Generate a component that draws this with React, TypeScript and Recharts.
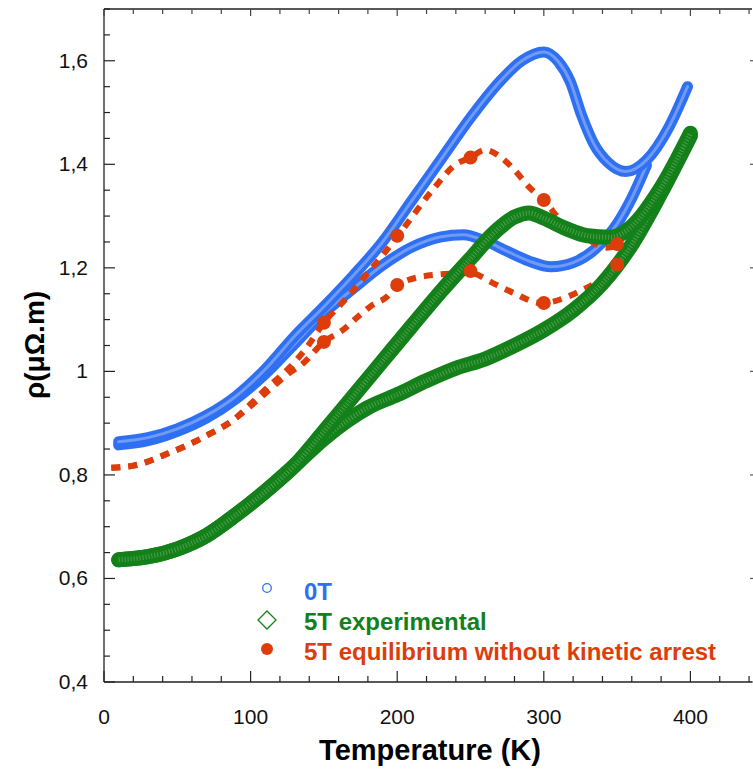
import { ComposedChart, Line, XAxis, YAxis } from "recharts";

// 0T, two branches of the loop
const blueWarmT = [10, 30, 50, 70, 90, 110, 130, 150, 170, 190, 210, 230, 250, 270, 285, 300, 310, 318, 326, 334, 344, 356, 370, 385, 398];
const blueWarmRho = [0.864, 0.872, 0.889, 0.915, 0.952, 1.004, 1.068, 1.125, 1.185, 1.25, 1.33, 1.41, 1.49, 1.56, 1.6, 1.617, 1.598, 1.56, 1.493, 1.44, 1.403, 1.386, 1.408, 1.47, 1.55];
const blueCoolT = [10, 30, 50, 70, 90, 110, 130, 150, 170, 190, 210, 230, 245, 260, 275, 290, 305, 320, 335, 350, 360, 370];
const blueCoolRho = [0.858, 0.866, 0.884, 0.91, 0.947, 0.995, 1.053, 1.112, 1.16, 1.205, 1.24, 1.26, 1.264, 1.252, 1.232, 1.213, 1.202, 1.21, 1.236, 1.285, 1.335, 1.398];

// 5T experimental
const greenUpT = [10, 30, 50, 70, 90, 110, 130, 150, 170, 190, 210, 230, 250, 265, 280, 290, 300, 315, 330, 345, 360, 380, 400];
const greenUpRho = [0.636, 0.642, 0.657, 0.683, 0.723, 0.768, 0.818, 0.884, 0.952, 1.02, 1.088, 1.155, 1.218, 1.265, 1.298, 1.306, 1.296, 1.276, 1.262, 1.259, 1.28, 1.355, 1.46];
const greenLowT = [10, 30, 50, 70, 90, 110, 130, 150, 165, 180, 200, 220, 240, 260, 280, 300, 320, 340, 360, 380, 400];
const greenLowRho = [0.636, 0.642, 0.657, 0.683, 0.723, 0.768, 0.818, 0.87, 0.903, 0.93, 0.955, 0.982, 1.006, 1.024, 1.05, 1.08, 1.118, 1.17, 1.245, 1.345, 1.455];

// 5T equilibrium without kinetic arrest (dashed fits + computed points)
const redUpT = [5, 20, 45, 70, 90, 100, 110, 125, 138, 150, 163, 180, 200, 224, 240, 250, 260, 270, 280, 290, 300, 313, 330, 343, 352];
const redUpRho = [0.814, 0.818, 0.843, 0.876, 0.91, 0.937, 0.965, 1.003, 1.045, 1.094, 1.134, 1.19, 1.26, 1.35, 1.4, 1.413, 1.428, 1.415, 1.389, 1.356, 1.33, 1.287, 1.255, 1.239, 1.244];
const redLowT = [5, 20, 45, 70, 90, 100, 115, 125, 136, 150, 163, 173, 183, 193, 200, 224, 250, 265, 279, 298, 324, 340, 352];
const redLowRho = [0.814, 0.818, 0.843, 0.876, 0.91, 0.933, 0.97, 0.994, 1.016, 1.057, 1.08, 1.105, 1.128, 1.144, 1.167, 1.186, 1.19, 1.171, 1.152, 1.132, 1.154, 1.18, 1.21];
const redDotT = [150, 200, 250, 300, 350];
const redDotUpRho = [1.094, 1.262, 1.413, 1.331, 1.246];
const redDotLowRho = [1.057, 1.167, 1.194, 1.132, 1.206];

const xTicks = [0, 20, 40, 60, 80, 100, 120, 140, 160, 180, 200, 220, 240, 260, 280, 300, 320, 340, 360, 380, 400, 420, 440];
const yTicks = [0.4, 0.45, 0.5, 0.55, 0.6, 0.65, 0.7, 0.75, 0.8, 0.85, 0.9, 0.95, 1, 1.05, 1.1, 1.15, 1.2, 1.25, 1.3, 1.35, 1.4, 1.45, 1.5, 1.55, 1.6, 1.65, 1.7];

const BLUE = "#2f6ff2";
const BLUE_IN = "#6f9bf6";
const GREEN = "#13801a";
const GREEN_IN = "#4f9f4f";
const RED = "#dc3d0b";
const FONT = "'Liberation Sans', Arial, sans-serif";

const zip = (t: number[], r: number[]) => t.map((T, i) => ({ T, rho: r[i] }));

const isMajorY = (v: number) => Math.abs(v * 5 - Math.round(v * 5)) < 1e-6;
const fmtY = (v: number) => (Math.abs(v - 1) < 1e-9 ? "1" : v.toFixed(1).replace(".", ","));

const BottomTick = ({ x, y, payload }: any) => {
  const v = payload.value;
  const major = v % 100 === 0;
  return (
    <g>
      <line x1={x} x2={x} y1={y} y2={y - (major ? 11 : 6)} stroke="#222" strokeWidth={1.2} />
      {major && (
        <text x={x} y={y + 42} textAnchor="middle" fontSize={21} fontFamily={FONT} fill="#111">
          {v}
        </text>
      )}
    </g>
  );
};

const TopTick = ({ x, y, payload }: any) => {
  const major = payload.value % 100 === 0;
  return <line x1={x} x2={x} y1={y} y2={y + (major ? 7 : 5)} stroke="#444" strokeWidth={1.2} />;
};

const LeftTick = ({ x, y, payload }: any) => {
  const v = payload.value;
  const major = isMajorY(v);
  return (
    <g>
      <line x1={x} x2={x + (major ? 11 : 6)} y1={y} y2={y} stroke="#222" strokeWidth={1.2} />
      {major && (
        <text x={x - 16} y={y + 7} textAnchor="end" fontSize={21} fontFamily={FONT} fill="#111">
          {fmtY(v)}
        </text>
      )}
    </g>
  );
};

const RightTick = ({ x, y, payload }: any) => {
  if (!isMajorY(payload.value)) return <g />;
  return <line x1={x + 1} x2={x - 2} y1={y} y2={y} stroke="#555" strokeWidth={1.2} />;
};

const band = (data: any[], color: string, width: number, key: string, extra: any = {}) => (
  <Line
    key={key}
    data={data}
    dataKey="rho"
    type="monotone"
    stroke={color}
    strokeWidth={width}
    strokeLinecap="round"
    dot={false}
    activeDot={false}
    isAnimationActive={false}
    {...extra}
  />
);

export default function App() {
  const blueWarm = zip(blueWarmT, blueWarmRho);
  const blueCool = zip(blueCoolT, blueCoolRho);
  const greenUp = zip(greenUpT, greenUpRho);
  const greenLow = zip(greenLowT, greenLowRho);
  const redUp = zip(redUpT, redUpRho);
  const redLow = zip(redLowT, redLowRho);
  const redDotsUp = zip(redDotT, redDotUpRho);
  const redDotsLow = zip(redDotT, redDotLowRho);

  const dashProps = { strokeDasharray: "9 8", strokeLinecap: "butt" };
  const stripeProps = { strokeDasharray: "1 2", strokeLinecap: "butt" };
  const dotProps = { stroke: "none", strokeWidth: 0, dot: { r: 7, fill: RED, stroke: "none" } };

  return (
    <div style={{ position: "absolute", left: 0, top: 0, width: 753, height: 773, background: "#fff" }}>
      <ComposedChart width={753} height={773} margin={{ top: 0, right: 0, bottom: 0, left: 0 }}>
        <XAxis
          dataKey="T"
          type="number"
          domain={[0, 442]}
          allowDataOverflow
          ticks={xTicks}
          interval={0}
          height={91}
          tickSize={0}
          tickMargin={0}
          tickLine={false}
          tick={BottomTick}
          axisLine={{ stroke: "#222", strokeWidth: 1.3 }}
        />
        <XAxis
          xAxisId="top"
          orientation="top"
          dataKey="T"
          type="number"
          domain={[0, 442]}
          allowDataOverflow
          ticks={xTicks}
          interval={0}
          height={9}
          tickSize={0}
          tickMargin={0}
          tickLine={false}
          tick={TopTick}
          axisLine={{ stroke: "#222", strokeWidth: 1.3 }}
        />
        <YAxis
          dataKey="rho"
          type="number"
          domain={[0.4, 1.7]}
          allowDataOverflow
          ticks={yTicks}
          interval={0}
          width={104}
          tickSize={0}
          tickMargin={0}
          tickLine={false}
          tick={LeftTick}
          axisLine={{ stroke: "#222", strokeWidth: 1.3 }}
        />
        <YAxis
          yAxisId="right"
          orientation="right"
          dataKey="rho"
          type="number"
          domain={[0.4, 1.7]}
          allowDataOverflow
          ticks={yTicks}
          interval={0}
          width={1}
          tickSize={0}
          tickMargin={0}
          tickLine={false}
          tick={RightTick}
          axisLine={false}
        />

        {band(blueCool, BLUE, 11, "bc")}
        {band(blueCool, BLUE_IN, 3, "bc2")}
        {band(blueWarm, BLUE, 11, "bw")}
        {band(blueWarm, BLUE_IN, 3, "bw2")}

        {band(redLow, RED, 6, "rl", dashProps)}
        {band(redUp, RED, 6, "ru", dashProps)}

        {band(greenLow, GREEN, 15, "gl")}
        {band(greenLow, GREEN_IN, 5, "gl2", stripeProps)}
        {band(greenUp, GREEN, 15, "gu")}
        {band(greenUp, GREEN_IN, 5, "gu2", stripeProps)}

        {band(redDotsUp, RED, 0, "rdu", dotProps)}
        {band(redDotsLow, RED, 0, "rdl", dotProps)}
      </ComposedChart>

      <svg width={753} height={773} style={{ position: "absolute", left: 0, top: 0, pointerEvents: "none" }}>
        <text x={430} y={760} textAnchor="middle" fontSize={29} fontWeight="bold" fontFamily={FONT} fill="#000">
          Temperature (K)
        </text>
        <text
          x={0}
          y={0}
          transform="translate(44 345) rotate(-90)"
          textAnchor="middle"
          fontSize={28}
          fontWeight="bold"
          fontFamily={FONT}
          fill="#000"
        >
          ρ(μΩ.m)
        </text>

        <circle cx={267} cy={588} r={4.3} fill="none" stroke={BLUE} strokeWidth={1.3} />
        <text x={304} y={600} fontSize={24} fontWeight="bold" fontFamily={FONT} fill={BLUE}>
          0T
        </text>
        <polygon points="267,611 276,620 267,629 258,620" fill="none" stroke={GREEN} strokeWidth={1.3} />
        <text x={304} y={630} fontSize={24} fontWeight="bold" fontFamily={FONT} fill={GREEN}>
          5T experimental
        </text>
        <circle cx={267} cy={649} r={6} fill={RED} />
        <text x={304} y={660} fontSize={24} fontWeight="bold" fontFamily={FONT} fill={RED}>
          5T equilibrium without kinetic arrest
        </text>
      </svg>
    </div>
  );
}
